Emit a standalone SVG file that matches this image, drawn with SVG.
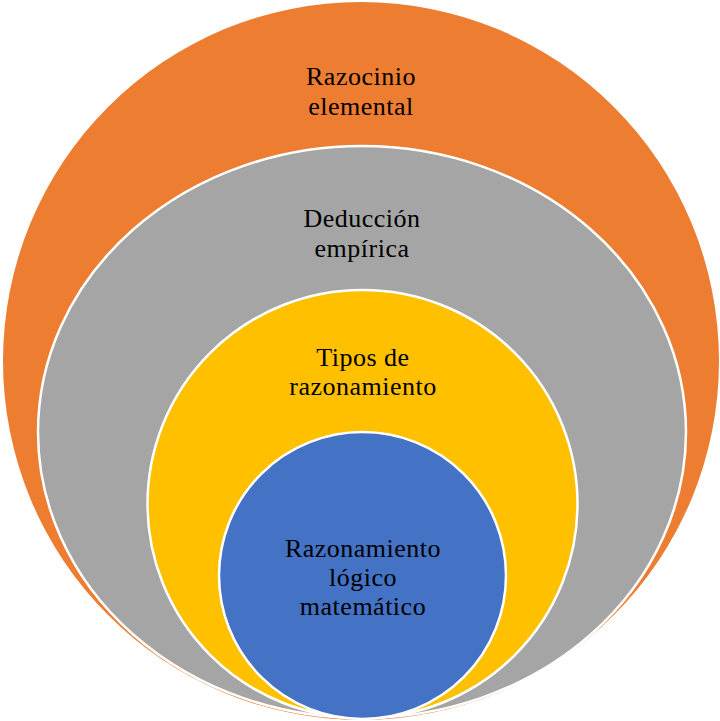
<svg xmlns="http://www.w3.org/2000/svg" width="720" height="721" viewBox="0 0 720 721">
  <style>
    .ring { stroke: #ffffff; stroke-width: 2.5; }
    .label { font-family: "Liberation Serif", "Times New Roman", serif; font-size: 26px; letter-spacing: 0.5px; fill: #000000; text-anchor: middle; }
  </style>
  <rect x="0" y="0" width="720" height="721" fill="#ffffff"/>
  <g id="razocinio-elemental">
    <ellipse cx="361" cy="361" rx="358" ry="359" fill="#ed7d31" stroke="none"/>
    <text class="label" x="361" y="85">Razocinio</text>
    <text class="label" x="361" y="115">elemental</text>
  </g>
  <g id="deduccion-empirica">
    <ellipse class="ring" cx="362" cy="432" rx="324" ry="286" fill="#a5a5a5"/>
    <text class="label" x="362" y="227">Deducción</text>
    <text class="label" x="362" y="257">empírica</text>
  </g>
  <g id="tipos-de-razonamiento">
    <ellipse class="ring" cx="362.5" cy="504" rx="215" ry="214" fill="#ffc000"/>
    <text class="label" x="363" y="366">Tipos de</text>
    <text class="label" x="363" y="395">razonamiento</text>
  </g>
  <g id="razonamiento-logico-matematico">
    <ellipse class="ring" cx="362.5" cy="575.5" rx="143.5" ry="143.5" fill="#4472c4"/>
    <text class="label" x="363" y="557">Razonamiento</text>
    <text class="label" x="363" y="586">lógico</text>
    <text class="label" x="363" y="615">matemático</text>
  </g>
  <g id="connectors"/>
</svg>
